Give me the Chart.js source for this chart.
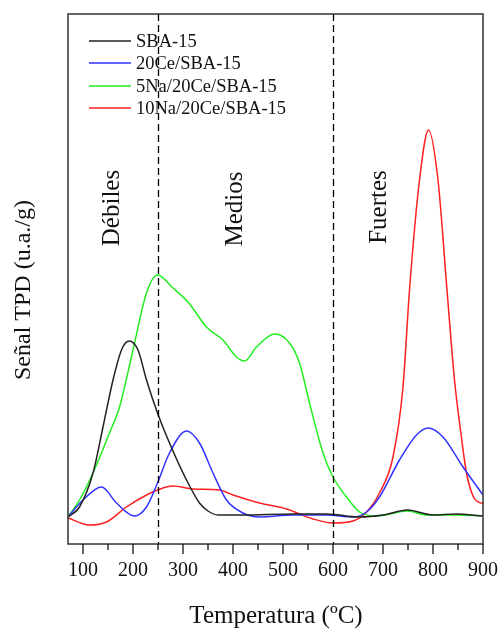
<!DOCTYPE html>
<html>
<head>
<meta charset="utf-8">
<script src="https://cdn.jsdelivr.net/npm/chart.js@4.4.0/dist/chart.umd.min.js"></script>
<style>
  html, body { margin: 0; padding: 0; background: #fff; }
  #wrap { width: 498px; height: 630px; }
</style>
</head>
<body>
<div id="wrap"><canvas id="chartTPD" width="498" height="630"></canvas></div>
<script>
// --- Datos (x: temperatura ºC, y: senal en unidades arbitrarias) ---
const xTicks = [100, 200, 300, 400, 500, 600, 700, 800, 900];
const etiquetasZonas = ["Débiles", "Medios", "Fuertes"];
const limitesZonas = [250, 600];

const tempSBA = [70, 93, 120, 140, 160, 177, 192, 210, 227, 249, 273, 307, 333, 350, 370, 420, 520, 587, 653, 700, 749, 800, 847, 900];
const senalSBA = [27, 37, 71, 117, 164, 194, 203, 194, 164, 131, 101, 64, 41, 33, 29, 29, 30, 30, 27, 29, 34, 29, 30, 28];

const tempCe = [70, 100, 137, 167, 203, 227, 249, 273, 307, 333, 360, 387, 420, 453, 520, 587, 640, 667, 693, 733, 767, 790, 820, 860, 900];
const senalCe = [27, 44, 57, 41, 28, 37, 61, 91, 113, 101, 71, 44, 31, 27, 29, 29, 27, 32, 47, 84, 109, 116, 107, 77, 49];

const temp5Na = [70, 93, 120, 153, 173, 200, 227, 249, 280, 310, 347, 380, 407, 423, 447, 483, 513, 533, 553, 580, 600, 627, 653, 687, 749, 787, 847, 900];
const senal5Na = [27, 44, 71, 111, 137, 194, 251, 269, 256, 242, 217, 204, 187, 183, 197, 210, 201, 181, 141, 91, 67, 47, 32, 28, 33, 29, 29, 28];

const temp10Na = [70, 113, 147, 187, 227, 249, 280, 320, 373, 400, 453, 507, 560, 600, 640, 667, 693, 720, 740, 753, 773, 791, 810, 828, 843, 856, 867, 881, 900];
const senal10Na = [26, 19, 22, 37, 49, 54, 58, 55, 54, 49, 41, 35, 25, 21, 23, 32, 51, 87, 157, 254, 364, 414, 364, 254, 164, 110, 71, 47, 40];

const series = [
    { label: "SBA-15", temp: tempSBA, senal: senalSBA, color: "#222222" },
    { label: "20Ce/SBA-15", temp: tempCe, senal: senalCe, color: "#3333ff" },
    { label: "5Na/20Ce/SBA-15", temp: temp5Na, senal: senal5Na, color: "#22ee22" },
    { label: "10Na/20Ce/SBA-15", temp: temp10Na, senal: senal10Na, color: "#ff2020" }
];

const fuente = "'Liberation Serif', 'DejaVu Serif', serif";

// --- Plugin: marco, ticks, lineas de zona, textos y leyenda ---
const decoracion = {
    id: "decoracion",
    afterDatasetsDraw(chart) {
        const { ctx, chartArea: a, scales } = chart;
        const xs = scales.x;
        ctx.save();

        // lineas de zona discontinuas
        ctx.strokeStyle = "#000";
        ctx.lineWidth = 1.3;
        ctx.setLineDash([7, 4]);
        limitesZonas.forEach(t => {
            const px = Math.round(xs.getPixelForValue(t)) + 0.5;
            ctx.beginPath();
            ctx.moveTo(px, a.top);
            ctx.lineTo(px, a.bottom);
            ctx.stroke();
        });
        ctx.setLineDash([]);

        // marco
        ctx.strokeStyle = "#333";
        ctx.lineWidth = 1.5;
        ctx.strokeRect(a.left, a.top, a.right - a.left, a.bottom - a.top);

        // ticks mayores y menores hacia fuera
        ctx.strokeStyle = "#000";
        ctx.lineWidth = 1.2;
        for (let t = 100; t <= 900; t += 50) {
            const px = xs.getPixelForValue(t);
            const largo = (t % 100 === 0) ? 10 : 6;
            ctx.beginPath();
            ctx.moveTo(px, a.bottom);
            ctx.lineTo(px, a.bottom + largo);
            ctx.stroke();
        }

        // etiquetas del eje x
        ctx.fillStyle = "#111";
        ctx.font = "20px " + fuente;
        ctx.textAlign = "center";
        ctx.textBaseline = "middle";
        xTicks.forEach(t => ctx.fillText(String(t), xs.getPixelForValue(t), a.bottom + 27));

        // textos de zonas
        ctx.font = "25px " + fuente;
        const posZonas = [[112, 208], [235, 209], [379, 207]];
        etiquetasZonas.forEach((txt, i) => {
            ctx.save();
            ctx.translate(posZonas[i][0], posZonas[i][1]);
            ctx.rotate(-Math.PI / 2);
            ctx.fillText(txt, 0, 0);
            ctx.restore();
        });

        // titulos de ejes
        ctx.font = "25px " + fuente;
        ctx.fillText("Temperatura (ºC)", 276, 616);
        ctx.font = "24px " + fuente;
        ctx.save();
        ctx.translate(24, 290);
        ctx.rotate(-Math.PI / 2);
        ctx.fillText("Señal TPD (u.a./g)", 0, 0);
        ctx.restore();

        // leyenda
        ctx.font = "18.5px " + fuente;
        ctx.textAlign = "left";
        const filas = [41, 63, 86, 108];
        series.forEach((s, i) => {
            ctx.strokeStyle = s.color;
            ctx.lineWidth = 1.5;
            ctx.beginPath();
            ctx.moveTo(89, filas[i]);
            ctx.lineTo(131, filas[i]);
            ctx.stroke();
            ctx.fillStyle = "#111";
            ctx.fillText(s.label, 136, filas[i] + 1);
        });

        ctx.restore();
    }
};

const ctxTPD = document.getElementById("chartTPD").getContext("2d");
new Chart(ctxTPD, {
    type: "line",
    data: {
        datasets: series.map(s => ({
            label: s.label,
            data: s.temp.map((t, i) => ({ x: t, y: s.senal[i] })),
            borderColor: s.color,
            borderWidth: 1.5,
            pointRadius: 0,
            cubicInterpolationMode: "monotone",
            fill: false
        }))
    },
    options: {
        responsive: false,
        animation: false,
        layout: { padding: { left: 68, top: 14, right: 15, bottom: 0 } },
        plugins: { legend: { display: false }, tooltip: { enabled: false } },
        scales: {
            x: {
                type: "linear",
                min: 70,
                max: 900,
                grid: { display: false },
                border: { display: false },
                ticks: { display: false },
                afterFit: (axis) => { axis.height = 86; }
            },
            y: {
                display: false,
                min: 0,
                max: 530
            }
        }
    },
    plugins: [decoracion]
});
</script>
</body>
</html>
